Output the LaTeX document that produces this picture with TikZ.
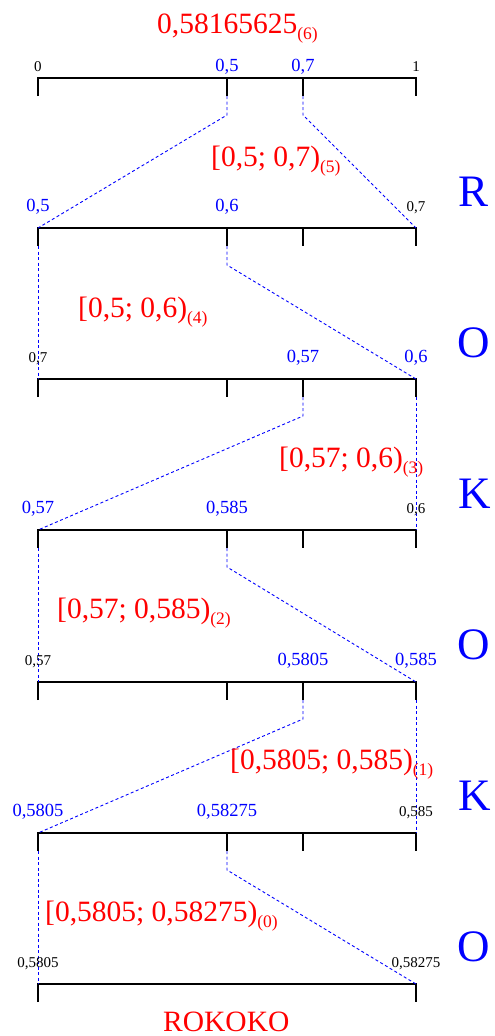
\documentclass[tikz,border=0pt]{standalone}
\usepackage{fontspec}
\setmainfont{Liberation Serif}
\newcommand\sbs[1]{\raisebox{-6pt}{\fontsize{17.5}{18}\selectfont #1}}
\begin{document}
\begin{tikzpicture}[x=1pt,y=-1pt,
  axis/.style={black,line width=1.1pt},
  link/.style={blue,dash pattern=on 3pt off 2.5pt,line width=0.9pt},
  lb/.style={blue,font=\fontsize{18.5}{20}\selectfont,anchor=base,inner sep=0pt},
  lk/.style={black,font=\fontsize{15}{17}\selectfont,anchor=base,inner sep=0pt},
  iv/.style={red,font=\fontsize{29.5}{32}\selectfont,anchor=base west,inner sep=0pt},
  sym/.style={blue,font=\fontsize{45}{48}\selectfont,anchor=base west,inner sep=0pt}]
\useasboundingbox (0,0) rectangle (495,1036);
\foreach \i/\y in {1/78,2/228,3/379,4/530,5/682,6/833,7/984} {
  \coordinate (a\i) at (38,\y);
  \coordinate (b\i) at (227,\y);
  \coordinate (c\i) at (303,\y);
  \coordinate (d\i) at (416,\y);
  \coordinate (a\i t) at (38,\y+18);
  \coordinate (b\i t) at (227,\y+18);
  \coordinate (c\i t) at (303,\y+18);
  \coordinate (d\i t) at (416,\y+18);
}
\foreach \i in {1,...,7} {
  \draw[axis] (a\i t) -- (a\i) -- (d\i) -- (d\i t);
}
\foreach \i in {1,...,6} {
  \draw[axis] (b\i) -- (b\i t);
  \draw[axis] (c\i) -- (c\i t);
}
% kink points
\coordinate (kb1) at (227,115);
\coordinate (kc1) at (303,115);
\coordinate (kb2) at (227,265);
\coordinate (kc3) at (303,416);
\coordinate (kb4) at (227,567);
\coordinate (kc5) at (303,719);
\coordinate (kb6) at (227,870);
% connectors
\draw[link] (b1t) -- (kb1) -- (a2);
\draw[link] (c1t) -- (kc1) -- (d2);
\draw[link] (a2t) -- (a3);
\draw[link] (b2t) -- (kb2) -- (d3);
\draw[link] (c3t) -- (kc3) -- (a4);
\draw[link] (d3t) -- (d4);
\draw[link] (a4t) -- (a5);
\draw[link] (b4t) -- (kb4) -- (d5);
\draw[link] (c5t) -- (kc5) -- (a6);
\draw[link] (d5t) -- (d6);
\draw[link] (a6t) -- (a7);
\draw[link] (b6t) -- (kb6) -- (d7);
% tick labels
\node[lk] (l1a) at (38,71) {0};
\node[lb] (l1b) at (227,71) {0,5};
\node[lb] (l1c) at (303,71) {0,7};
\node[lk] (l1d) at (416,71) {1};
\node[lb] (l2a) at (38,211) {0,5};
\node[lb] (l2b) at (227,211) {0,6};
\node[lk] (l2d) at (416,211) {0,7};
\node[lk] (l3a) at (38,362) {0,7};
\node[lb] (l3c) at (303,362) {0,57};
\node[lb] (l3d) at (416,362) {0,6};
\node[lb] (l4a) at (38,513) {0,57};
\node[lb] (l4b) at (227,513) {0,585};
\node[lk] (l4d) at (416,513) {0,6};
\node[lk] (l5a) at (38,665) {0,57};
\node[lb] (l5c) at (303,665) {0,5805};
\node[lb] (l5d) at (416,665) {0,585};
\node[lb] (l6a) at (38,816) {0,5805};
\node[lb] (l6b) at (227,816) {0,58275};
\node[lk] (l6d) at (416,816) {0,585};
\node[lk] (l7a) at (38,967) {0,5805};
\node[lk] (l7d) at (416,967) {0,58275};
% red interval labels
\node[iv] (t6) at (157,33) {0,58165625\sbs{(6)}};
\node[iv] (t5) at (211,166) {[0,5; 0,7)\sbs{(5)}};
\node[iv] (t4) at (78,317) {[0,5; 0,6)\sbs{(4)}};
\node[iv] (t3) at (279,467) {[0,57; 0,6)\sbs{(3)}};
\node[iv] (t2) at (57,618) {[0,57; 0,585)\sbs{(2)}};
\node[iv] (t1) at (230,769) {[0,5805; 0,585)\sbs{(1)}};
\node[iv] (t0) at (45,921) {[0,5805; 0,58275)\sbs{(0)}};
\node[iv,text depth=0pt] (word) at (163,1031) {ROKOKO};
% symbols
\node[sym] (s1) at (458,206) {R};
\node[sym] (s2) at (457,357) {O};
\node[sym] (s3) at (458,508) {K};
\node[sym] (s4) at (457,659) {O};
\node[sym] (s5) at (458,810) {K};
\node[sym] (s6) at (457,961) {O};
\end{tikzpicture}
\end{document}
